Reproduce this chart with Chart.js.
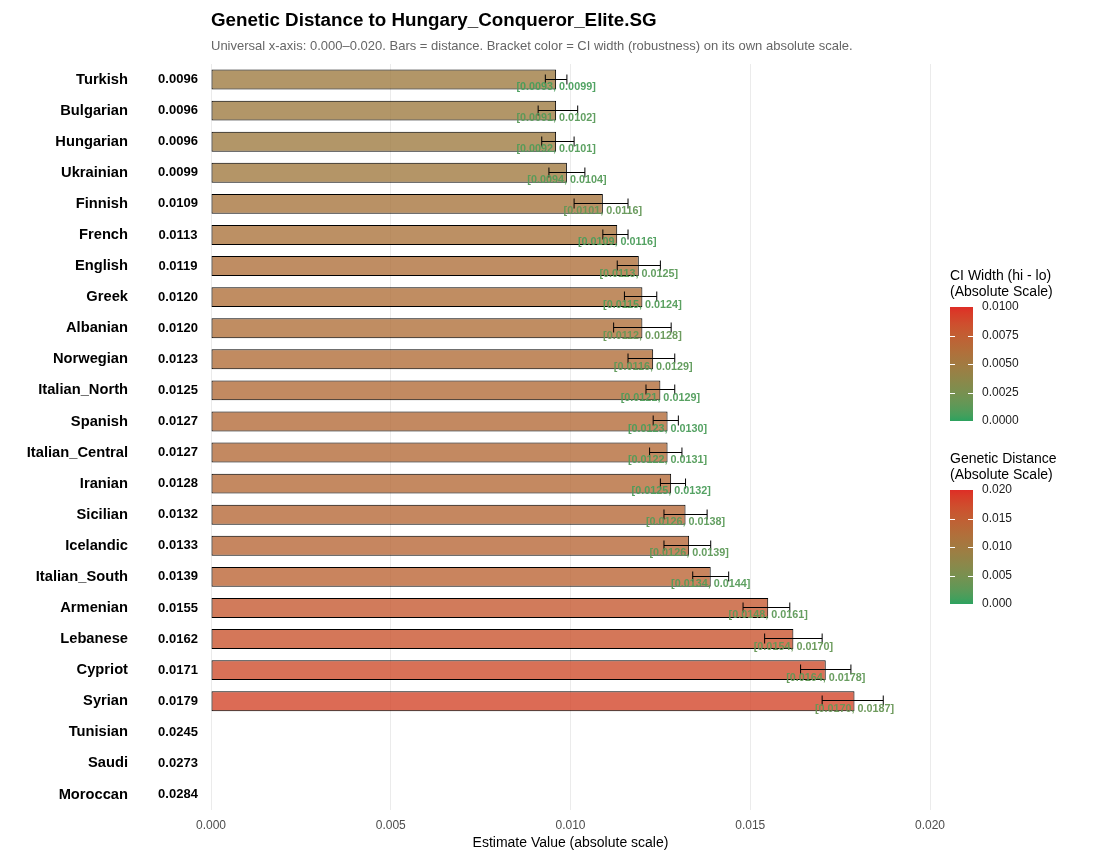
<!DOCTYPE html>
<html>
<head>
<meta charset="utf-8">
<script src="https://cdn.jsdelivr.net/npm/chart.js@4.4.1/dist/chart.umd.min.js"></script>
<style>
  html, body { margin: 0; padding: 0; background: #fff; }
  canvas { display: block; }
</style>
</head>
<body>
<canvas id="chart" width="1103" height="864"></canvas>
<script>
// data
const populations = ['Turkish', 'Bulgarian', 'Hungarian', 'Ukrainian', 'Finnish', 'French', 'English', 'Greek',
  'Albanian', 'Norwegian', 'Italian_North', 'Spanish', 'Italian_Central', 'Iranian', 'Sicilian', 'Icelandic',
  'Italian_South', 'Armenian', 'Lebanese', 'Cypriot', 'Syrian', 'Tunisian', 'Saudi', 'Moroccan'];
const distance = [0.0096, 0.0096, 0.0096, 0.0099, 0.0109, 0.0113, 0.0119, 0.0120, 0.0120, 0.0123, 0.0125, 0.0127,
  0.0127, 0.0128, 0.0132, 0.0133, 0.0139, 0.0155, 0.0162, 0.0171, 0.0179, 0.0245, 0.0273, 0.0284];
const ciLow = [0.0093, 0.0091, 0.0092, 0.0094, 0.0101, 0.0109, 0.0113, 0.0115, 0.0112, 0.0116, 0.0121, 0.0123,
  0.0122, 0.0125, 0.0126, 0.0126, 0.0134, 0.0148, 0.0154, 0.0164, 0.0170, null, null, null];
const ciHigh = [0.0099, 0.0102, 0.0101, 0.0104, 0.0116, 0.0116, 0.0125, 0.0124, 0.0128, 0.0129, 0.0129, 0.0130,
  0.0131, 0.0132, 0.0138, 0.0139, 0.0144, 0.0161, 0.0170, 0.0178, 0.0187, null, null, null];
const xTicks = [0, 0.005, 0.010, 0.015, 0.020];
const ciLegendTicks = [0, 0.0025, 0.0050, 0.0075, 0.0100];
const distLegendTicks = [0, 0.005, 0.010, 0.015, 0.020];

const X_MAX = 0.02;
const CI_MAX = 0.01;
const LOW_COL = '#2ca25f';
const HIGH_COL = '#de2d26';
const FONT = '"Liberation Sans", Arial, sans-serif';

// colour interpolation in Lab, like ggplot gradients
function hexToRgb(h) { return [1, 3, 5].map(i => parseInt(h.substr(i, 2), 16)); }
function toLin(c) { c /= 255; return c <= 0.04045 ? c / 12.92 : Math.pow((c + 0.055) / 1.055, 2.4); }
function fromLin(c) {
  c = c <= 0.0031308 ? 12.92 * c : 1.055 * Math.pow(c, 1 / 2.4) - 0.055;
  return Math.round(Math.max(0, Math.min(1, c)) * 255);
}
function rgbToLab(rgb) {
  const [r, g, b] = rgb.map(toLin);
  const x = (0.4124 * r + 0.3576 * g + 0.1805 * b) / 0.95047;
  const y = 0.2126 * r + 0.7152 * g + 0.0722 * b;
  const z = (0.0193 * r + 0.1192 * g + 0.9505 * b) / 1.08883;
  const f = t => t > 0.008856 ? Math.cbrt(t) : 7.787 * t + 16 / 116;
  const fx = f(x), fy = f(y), fz = f(z);
  return [116 * fy - 16, 500 * (fx - fy), 200 * (fy - fz)];
}
function labToRgb([L, a, b]) {
  const fy = (L + 16) / 116, fx = fy + a / 500, fz = fy - b / 200;
  const fi = t => t * t * t > 0.008856 ? t * t * t : (t - 16 / 116) / 7.787;
  const x = fi(fx) * 0.95047, y = fi(fy), z = fi(fz) * 1.08883;
  return [
    fromLin(3.2406 * x - 1.5372 * y - 0.4986 * z),
    fromLin(-0.9689 * x + 1.8758 * y + 0.0415 * z),
    fromLin(0.0557 * x - 0.2040 * y + 1.0570 * z)
  ];
}
const labLow = rgbToLab(hexToRgb(LOW_COL));
const labHigh = rgbToLab(hexToRgb(HIGH_COL));
function gradColor(t, alpha = 1) {
  t = Math.max(0, Math.min(1, t));
  const lab = labLow.map((v, i) => v + (labHigh[i] - v) * t);
  const [r, g, b] = labToRgb(lab);
  return `rgba(${r},${g},${b},${alpha})`;
}

// bars outside the axis range are dropped, as in the original
const barData = distance.map(v => v <= X_MAX ? v : null);
const barColors = distance.map(v => gradColor(v / X_MAX, 0.8));

const headerPlugin = {
  id: 'header',
  afterDraw(chart) {
    const { ctx, chartArea } = chart;
    ctx.save();
    ctx.textAlign = 'left';
    ctx.textBaseline = 'middle';
    ctx.fillStyle = '#000';
    ctx.font = `bold 18.8px ${FONT}`;
    ctx.fillText('Genetic Distance to Hungary_Conqueror_Elite.SG', chartArea.left, 21);
    ctx.fillStyle = '#666';
    ctx.font = `13px ${FONT}`;
    ctx.fillText('Universal x-axis: 0.000\u20130.020. Bars = distance. Bracket color = CI width (robustness) on its own absolute scale.', chartArea.left, 46);
    ctx.restore();
  }
};

// distance values printed left of the panel
const valueLabels = {
  id: 'valueLabels',
  afterDraw(chart) {
    const { ctx, chartArea, scales } = chart;
    ctx.save();
    ctx.font = `bold 13px ${FONT}`;
    ctx.fillStyle = '#000';
    ctx.textAlign = 'center';
    ctx.textBaseline = 'middle';
    distance.forEach((v, i) => {
      ctx.fillText(v.toFixed(4), chartArea.left - 33, scales.y.getPixelForValue(i));
    });
    ctx.restore();
  }
};

// CI brackets and their labels
const errorBars = {
  id: 'errorBars',
  afterDatasetsDraw(chart) {
    const { ctx, scales } = chart;
    const x = scales.x, y = scales.y;
    ctx.save();
    ctx.strokeStyle = '#000';
    ctx.lineWidth = 1;
    populations.forEach((p, i) => {
      if (ciLow[i] == null) return;
      const yc = Math.round(y.getPixelForValue(i)) - 0.5;
      const x0 = x.getPixelForValue(ciLow[i]);
      const x1 = x.getPixelForValue(ciHigh[i]);
      ctx.beginPath();
      ctx.moveTo(x0, yc); ctx.lineTo(x1, yc);
      ctx.moveTo(x0, yc - 5); ctx.lineTo(x0, yc + 5);
      ctx.moveTo(x1, yc - 5); ctx.lineTo(x1, yc + 5);
      ctx.stroke();
    });
    ctx.font = `bold 10.8px ${FONT}`;
    ctx.textAlign = 'center';
    ctx.textBaseline = 'middle';
    populations.forEach((p, i) => {
      if (ciLow[i] == null) return;
      const w = ciHigh[i] - ciLow[i];
      ctx.fillStyle = gradColor(w / CI_MAX, 0.95);
      const label = `[${ciLow[i].toFixed(4)}, ${ciHigh[i].toFixed(4)}]`;
      ctx.fillText(label, x.getPixelForValue(distance[i]), y.getPixelForValue(i) + 7.5);
    });
    ctx.restore();
  }
};

// two colourbar legends on the right
function drawColorbar(ctx, left, top, height, title, ticks, maxVal, digits) {
  const width = 23;
  ctx.save();
  ctx.fillStyle = '#000';
  ctx.font = `14px ${FONT}`;
  ctx.textAlign = 'left';
  ctx.textBaseline = 'middle';
  ctx.fillText(title[0], left, top - 31);
  ctx.fillText(title[1], left, top - 15);
  const grad = ctx.createLinearGradient(0, top + height, 0, top);
  for (let k = 0; k <= 20; k++) grad.addColorStop(k / 20, gradColor(k / 20));
  ctx.fillStyle = grad;
  ctx.fillRect(left, top, width, height);
  ctx.strokeStyle = '#fff';
  ctx.lineWidth = 1;
  ctx.font = `12px ${FONT}`;
  ctx.fillStyle = '#1a1a1a';
  ticks.forEach(t => {
    const yy = top + height - (t / maxVal) * height;
    if (t > 0 && t < maxVal) {
      const ry = Math.round(yy) + 0.5;
      ctx.beginPath();
      ctx.moveTo(left, ry); ctx.lineTo(left + 5, ry);
      ctx.moveTo(left + width - 5, ry); ctx.lineTo(left + width, ry);
      ctx.stroke();
    }
    ctx.fillText(t.toFixed(digits), left + 32, yy);
  });
  ctx.restore();
}
const legendPlugin = {
  id: 'colorLegends',
  afterDraw(chart) {
    const { ctx, chartArea } = chart;
    const left = chartArea.right + 20;
    drawColorbar(ctx, left, 307, 114, ['CI Width (hi - lo)', '(Absolute Scale)'], ciLegendTicks, CI_MAX, 4);
    drawColorbar(ctx, left, 490, 114, ['Genetic Distance', '(Absolute Scale)'], distLegendTicks, X_MAX, 3);
  }
};

new Chart(document.getElementById('chart'), {
  type: 'bar',
  data: {
    labels: populations,
    datasets: [{
      label: 'Distance',
      data: barData,
      backgroundColor: barColors,
      borderColor: '#000',
      borderWidth: 1,
      borderSkipped: false,
      barPercentage: 0.64,
      categoryPercentage: 1.0
    }]
  },
  options: {
    indexAxis: 'y',
    responsive: false,
    animation: false,
    layout: { padding: { left: 0, top: 64, right: 173, bottom: 0 } },
    plugins: {
      legend: { display: false },
      tooltip: { enabled: false },
      title: { display: false }
    },
    scales: {
      x: {
        type: 'linear',
        min: 0,
        max: X_MAX,
        afterBuildTicks: scale => { scale.ticks = xTicks.map(v => ({ value: v })); },
        afterFit: scale => { scale.height = 54; },
        ticks: {
          callback: v => Number(v).toFixed(3),
          color: '#4d4d4d',
          font: { family: FONT, size: 12 },
          padding: 8
        },
        grid: { color: '#ebebeb', lineWidth: 1, drawTicks: false },
        border: { display: false },
        title: {
          display: true,
          text: 'Estimate Value (absolute scale)',
          color: '#000',
          font: { family: FONT, size: 14 },
          padding: { top: 0, bottom: 12.6 }
        }
      },
      y: {
        afterFit: scale => {
          scale.width = 211;
          scale.paddingTop = 0;
          scale.paddingBottom = 0;
        },
        ticks: {
          color: '#000',
          font: { family: FONT, size: 14.7, weight: 'bold' },
          padding: 83
        },
        grid: { display: false, drawTicks: false, tickLength: 0 },
        border: { display: false }
      }
    }
  },
  plugins: [headerPlugin, valueLabels, errorBars, legendPlugin]
});
</script>
</body>
</html>
